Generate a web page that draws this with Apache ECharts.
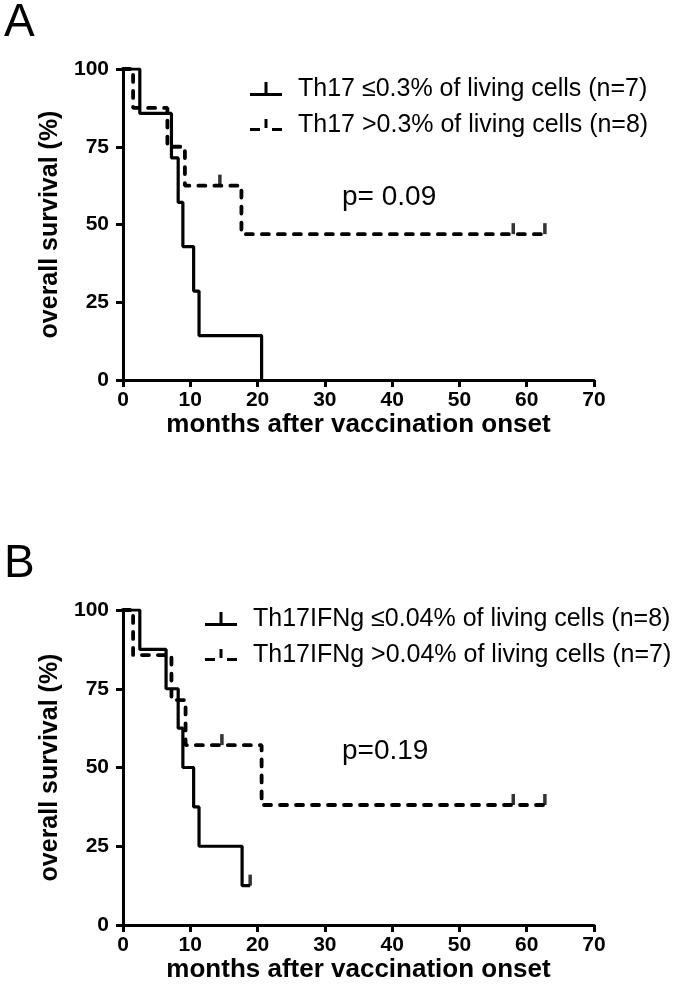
<!DOCTYPE html>
<html><head><meta charset="utf-8">
<script src="https://cdn.jsdelivr.net/npm/echarts@6/dist/echarts.min.js"></script>
<style>html,body{margin:0;padding:0;background:#fff}#c{width:681px;height:995px}</style>
</head><body><div id="c"></div><script>
// ---- Data ----
// Panel A
var aLowName = 'Th17 \u22640.3% of living cells (n=7)';
var aLowTimes = [0, 2.5, 7.2, 8.2, 8.9, 10.5, 11.3, 20.6];
var aLowSurv  = [100, 85.7, 71.4, 57.1, 42.9, 28.6, 14.3, 0];
var aLowCensT = [];
var aLowCensS = [];
var aHighName = 'Th17 >0.3% of living cells (n=8)';
var aHighTimes = [0, 1.5, 6.6, 9.2, 17.6, 62.7];
var aHighSurv  = [100, 87.5, 75, 62.5, 46.9, 46.9];
var aHighCensT = [14.4, 58.0, 62.7];
var aHighCensS = [62.5, 46.9, 46.9];
var aPText = 'p= 0.09';
// Panel B
var bLowName = 'Th17IFNg \u22640.04% of living cells (n=8)';
var bLowTimes = [0, 2.5, 6.4, 8.2, 8.9, 10.5, 11.3, 17.7, 18.9];
var bLowSurv  = [100, 87.5, 75, 62.5, 50, 37.5, 25, 12.5, 12.5];
var bLowCensT = [18.9];
var bLowCensS = [12.5];
var bHighName = 'Th17IFNg >0.04% of living cells (n=7)';
var bHighTimes = [0, 1.5, 7.2, 9.3, 20.6, 62.7];
var bHighSurv  = [100, 85.7, 71.4, 57.1, 38.1, 38.1];
var bHighCensT = [14.7, 58.0, 62.7];
var bHighCensS = [57.1, 38.1, 38.1];
var bPText = 'p=0.19';
// Axes
var xMin = 0, xMax = 70, xStep = 10;
var yMin = 0, yMax = 100, yStep = 25;
var xTitle = 'months after vaccination onset';
var yTitle = 'overall survival (%)';

// ---- Build ----
var FF = '"Liberation Sans", Arial, sans-serif';
function pairs(t, s){ return t.map(function(v,i){ return [v, s[i]]; }); }
function xAx(gi){
  return {type:'value', gridIndex:gi, min:xMin, max:xMax, interval:xStep,
    name:xTitle, nameLocation:'middle', nameGap:21,
    nameTextStyle:{fontFamily:FF, fontSize:26, fontWeight:'bold', color:'#000'},
    axisLine:{show:true, onZero:false, lineStyle:{color:'#000', width:3}},
    axisTick:{show:true, length:7, lineStyle:{color:'#000', width:3}},
    axisLabel:{fontFamily:FF, fontSize:21, fontWeight:'bold', color:'#000', margin:10},
    splitLine:{show:false}};
}
function yAx(gi){
  return {type:'value', gridIndex:gi, min:yMin, max:yMax, interval:yStep,
    name:yTitle, nameLocation:'middle', nameGap:58,
    nameTextStyle:{fontFamily:FF, fontSize:25, fontWeight:'bold', color:'#000'},
    axisLine:{show:true, onZero:false, lineStyle:{color:'#000', width:3}},
    axisTick:{show:true, length:7, lineStyle:{color:'#000', width:3}},
    axisLabel:{fontFamily:FF, fontSize:21, fontWeight:'bold', color:'#000', margin:14},
    splitLine:{show:false}};
}
function km(name, gi, t, s, dashed){
  return {type:'line', name:name, xAxisIndex:gi, yAxisIndex:gi, step:'end',
    data:pairs(t, s), symbol:'none', silent:true, animation:false,
    itemStyle:{color:'#000'},
    lineStyle: dashed ? {color:'#000', width:3.8, type:[7,9], cap:'round'}
                      : {color:'#000', width:3.2, type:'solid', cap:'butt'},
    z: dashed ? 2 : 3};
}
function cens(gi, t, s){
  return {type:'scatter', xAxisIndex:gi, yAxisIndex:gi, data:pairs(t, s),
    symbol:'rect', symbolSize:[3.5, 11], symbolOffset:[0, -5.5],
    itemStyle:{color:'#000'}, silent:true, animation:false, z:4};
}
var iconSolid = 'path://M0,11 L32,11 L32,14 L0,14 Z M14.5,0 L17.5,0 L17.5,14 L14.5,14 Z';
var iconDash = 'path://M0,11 L10,11 L10,14 L0,14 Z M14.5,2 L17.5,2 L17.5,11 L14.5,11 Z M22,11 L32,11 L32,14 L22,14 Z';
function leg(left, top, n1, n2, pad){
  return {orient:'vertical', left:left, top:top, itemWidth:32, itemHeight:14, itemGap:8,
    selectedMode:false, itemStyle:{color:'#000', borderWidth:0},
    textStyle:{fontFamily:FF, fontSize:25, color:'#000', lineHeight:28, padding:[0,0,0,pad]},
    data:[{name:n1, icon:iconSolid}, {name:n2, icon:iconDash}]};
}
var option = {
  backgroundColor:'#fff', animation:false,
  grid:[{left:123, right:87, top:69, height:311},
        {left:123, right:87, top:610, height:315}],
  xAxis:[xAx(0), xAx(1)],
  yAxis:[yAx(0), yAx(1)],
  legend:[leg(245, 70, aLowName, aHighName, 11), leg(200, 600, bLowName, bHighName, 11)],
  series:[
    km(aHighName, 0, aHighTimes, aHighSurv, true),
    km(aLowName, 0, aLowTimes, aLowSurv, false),
    cens(0, aHighCensT, aHighCensS),
    cens(0, aLowCensT, aLowCensS),
    km(bHighName, 1, bHighTimes, bHighSurv, true),
    km(bLowName, 1, bLowTimes, bLowSurv, false),
    cens(1, bHighCensT, bHighCensS),
    cens(1, bLowCensT, bLowCensS)
  ],
  graphic:[
    {type:'text', left:4, top:0, style:{text:'A', fontFamily:FF, fontSize:46, fill:'#000'}},
    {type:'text', left:4, top:541, style:{text:'B', fontFamily:FF, fontSize:46, fill:'#000'}},
    {type:'text', left:342, top:183, style:{text:aPText, fontFamily:FF, fontSize:28, fill:'#000'}},
    {type:'text', left:342, top:737, style:{text:bPText, fontFamily:FF, fontSize:28, fill:'#000'}}
  ]
};
var chart = echarts.init(document.getElementById('c'), null, {renderer:'canvas'});
chart.setOption(option);
</script></body></html>
